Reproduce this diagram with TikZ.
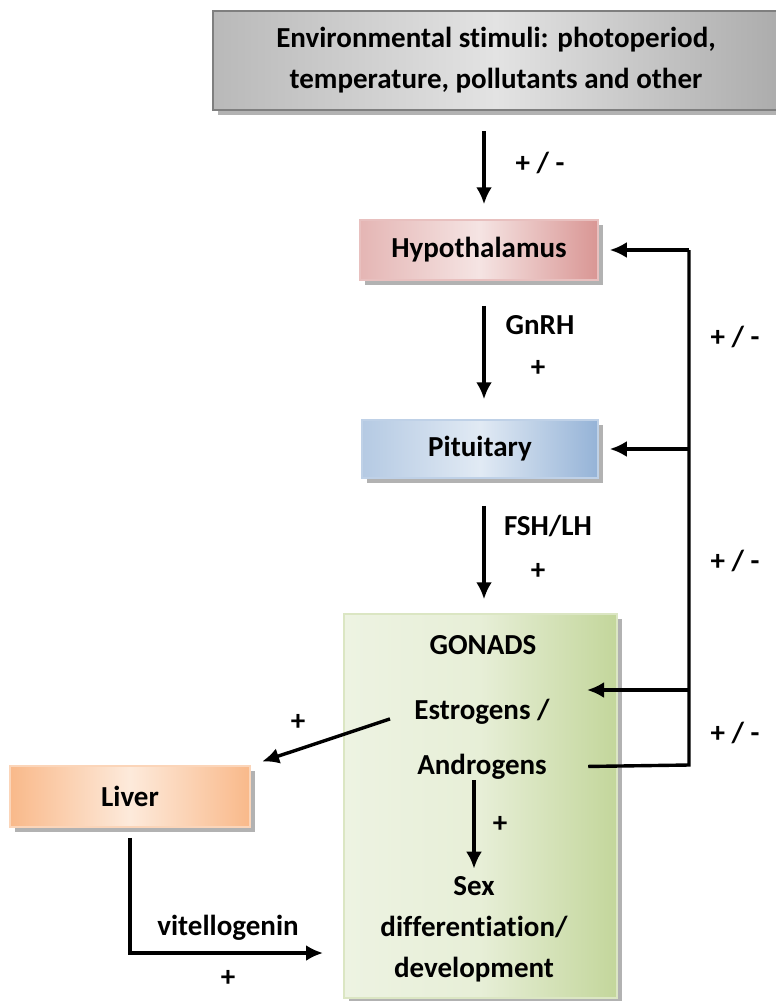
\documentclass[tikz,border=0pt]{standalone}
\usepackage{fontspec}
\setmainfont[Ligatures=NoCommon,RawFeature={-liga;-clig;-calt;-dlig}]{Carlito}
\usetikzlibrary{arrows.meta,shadows}
\definecolor{envdark}{HTML}{7F7F7F}
\definecolor{envlight}{HTML}{E3E3E3}
\definecolor{hypodark}{HTML}{D99694}
\definecolor{hypolight}{HTML}{F5E4E3}
\definecolor{pitdark}{HTML}{95B3D7}
\definecolor{pitlight}{HTML}{E1EAF4}
\definecolor{livdark}{HTML}{F9B98A}
\definecolor{livlight}{HTML}{FDEADB}
\definecolor{gondark}{HTML}{C3D69B}
\definecolor{gonlight}{HTML}{EDF3E2}
\begin{document}
\begin{tikzpicture}[x=1pt,y=-1pt,
  font=\fontsize{29}{34}\selectfont\bfseries,
  box/.style={line width=1.5pt,inner sep=0pt,
    drop shadow={shadow xshift=5pt,shadow yshift=-5pt,fill=black,opacity=0.3}},
  arr/.style={line width=3.4pt,-{Latex[length=17pt,width=16pt]}},
  wire/.style={line width=3.4pt}]
\useasboundingbox (0,0) rectangle (776,1001);
% boxes
\node[box,draw=envdark,left color=gray!55,right color=gray!65,middle color=envlight,
  minimum width=566pt,minimum height=99pt,align=center,
  font=\fontsize{29}{41}\selectfont\bfseries] (env) at (496,60.5)
  {Environmental stimuli: photoperiod,\\temperature, pollutants and other};
\node[box,draw=hypodark!60,left color=hypodark!70,right color=hypodark,middle color=hypolight,
  minimum width=238pt,minimum height=60pt] (hypo) at (479,250) {Hypothalamus};
\node[box,draw=pitdark!60,left color=pitdark!70,right color=pitdark,middle color=pitlight,
  minimum width=236pt,minimum height=58pt] (pit) at (480,449) {Pituitary};
\node[box,draw=gondark!60,left color=gonlight,right color=gondark,middle color=gondark!40,
  minimum width=273pt,minimum height=384pt] (gon) at (480.5,806) {};
\node[box,draw=livdark!60,left color=livdark,right color=livdark,middle color=livlight,
  minimum width=240pt,minimum height=61pt] (liver) at (130,796.5) {Liver};
% texts in the gonads
\node (gonlbl) at (483,645) {GONADS};
\node (estr) at (482,712) {Estrogens /};
\node (andr) at (482,767) {Androgens};
\node[align=center,font=\fontsize{29}{41}\selectfont\bfseries] (sex) at (474,929)
  {Sex\\differentiation/\\development};
% labels
\node (pm1) at (540,163) {+ / -};
\node (gnrh) at (540,325) {GnRH};
\node (plus1) at (538,368) {+};
\node (fsh) at (548,526) {FSH/LH};
\node (plus2) at (538,571) {+};
\node (pm2) at (735,337) {+ / -};
\node (pm3) at (735,561) {+ / -};
\node (pm4) at (735,733) {+ / -};
\node (plus3) at (298,722) {+};
\node (plus4) at (500,824) {+};
\node (vitlbl) at (228,928) {vitellogenin};
\node (plus5) at (228,978) {+};
% axis arrows
\coordinate (ax) at (484,131);
\draw[arr,shorten >=15pt] (ax) -- (ax |- hypo.north);
\draw[arr,shorten <=25pt,shorten >=20pt] (hypo.south -| ax) -- (pit.north -| ax);
\draw[arr,shorten <=27pt,shorten >=14pt] (pit.south -| ax) -- (gon.north -| ax);
% feedback
\coordinate (bus) at (689,765);
\coordinate (gin) at (587,690);
\draw[wire,shorten <=38pt] (andr.east) -- (bus) -- (bus |- hypo.east);
\draw[arr,shorten >=11pt] (bus |- hypo.east) -- (hypo.east);
\draw[arr,shorten >=11pt] (bus |- pit.east) -- (pit.east);
\draw[arr] (bus |- gin) -- (gin);
% liver and sex differentiation
\draw[arr,shorten <=22pt,shorten >=12pt] (estr.west) -- (liver.north east);
\coordinate (vit) at (323,953);
\draw[arr,shorten <=10pt] (liver.south) |- (vit);
\coordinate (sd) at (474,780);
\draw[arr,shorten >=4pt] (sd) -- (sd |- sex.north);
\end{tikzpicture}
\end{document}
